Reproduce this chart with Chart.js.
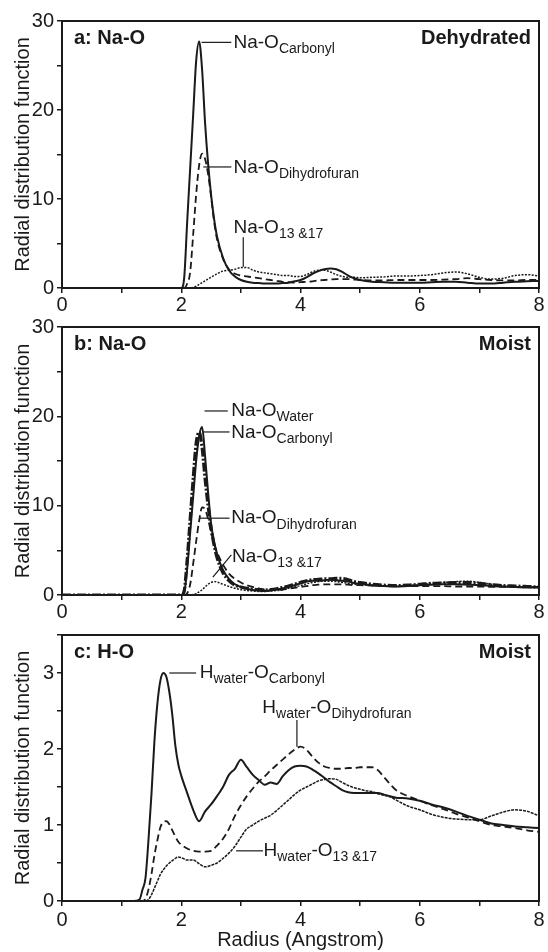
<!DOCTYPE html>
<html>
<head>
<meta charset="utf-8">
<script src="https://cdn.jsdelivr.net/npm/chart.js@4.4.1/dist/chart.umd.min.js"></script>
<style>
  html, body { margin: 0; padding: 0; background: #fff; }
  .panel { position: absolute; left: 0; width: 548px; }
  #pa { top: 0; height: 320px; }
  #pb { top: 305px; height: 320px; }
  #pc { top: 615px; height: 337px; }
</style>
</head>
<body>
<div class="panel" id="pa"><canvas id="chart-a"></canvas></div>
<div class="panel" id="pb"><canvas id="chart-b"></canvas></div>
<div class="panel" id="pc"><canvas id="chart-c"></canvas></div>
<script>
const FONT = "'Liberation Sans', Arial, sans-serif";
const INK = "#1a1a1a";

// radius grid shared by panels a and b (Angstrom)
const rNa = [0, 2.0, 2.05, 2.1, 2.15, 2.2, 2.25, 2.3, 2.35, 2.4, 2.45, 2.5, 2.55, 2.6,
  2.7, 2.8, 2.9, 3.0, 3.1, 3.2, 3.3, 3.4, 3.5, 3.6, 3.7, 3.8, 3.9, 4.0,
  4.1, 4.2, 4.3, 4.4, 4.5, 4.6, 4.7, 4.8, 4.9, 5.0,
  5.2, 5.4, 5.6, 5.8, 6.0, 6.2, 6.4, 6.6, 6.8, 7.0, 7.2, 7.4, 7.6, 7.8, 8.0];

// a: Na-O, dehydrated
const naDryCarbonyl = [0, 0, 1.2, 7.5, 13.5, 19.5, 25.5, 27.7, 24.5, 18.5, 14.0, 10.5, 7.8, 5.8,
  3.4, 2.0, 1.3, 0.9, 0.7, 0.6, 0.55, 0.5, 0.5, 0.5, 0.55, 0.6, 0.75, 0.9,
  1.2, 1.6, 1.9, 2.1, 2.2, 2.1, 1.8, 1.4, 1.1, 0.9,
  0.7, 0.65, 0.6, 0.6, 0.6, 0.65, 0.7, 0.7, 0.6, 0.5, 0.5, 0.6, 0.7, 0.75, 0.8];
const naDryDihydro = [0, 0, 0, 0.5, 1.8, 6.0, 10.5, 13.8, 15.1, 14.5, 12.8, 10.3, 7.5, 5.5,
  3.3, 2.1, 1.6, 1.4, 1.3, 1.2, 1.1, 1.0, 0.9, 0.8, 0.7, 0.65, 0.6, 0.65,
  0.7, 0.75, 0.85, 0.9, 0.95, 1.0, 1.0, 1.0, 0.95, 0.9,
  0.85, 0.85, 0.9, 0.9, 0.9, 0.9, 0.95, 1.0, 1.1, 1.0, 0.9, 0.85, 0.85, 0.9, 0.9];
const naDry1317 = [0, 0, 0, 0, 0, 0.05, 0.2, 0.4, 0.6, 0.8, 1.0, 1.2, 1.4, 1.6,
  1.9, 2.0, 2.1, 2.3, 2.3, 2.0, 1.8, 1.7, 1.6, 1.5, 1.4, 1.4, 1.3, 1.3,
  1.5, 1.8, 2.0, 2.0, 1.8, 1.5, 1.3, 1.2, 1.2, 1.15,
  1.2, 1.25, 1.35, 1.35, 1.4, 1.5, 1.7, 1.8, 1.6, 1.2, 1.0, 1.1, 1.4, 1.5, 1.35];

// b: Na-O, moist
const naWetWater = [0, 0, 0.5, 4.0, 8.5, 13.0, 17.0, 18.2, 16.5, 13.0, 10.0, 7.5, 5.6, 4.2,
  2.5, 1.6, 1.1, 0.9, 0.75, 0.65, 0.6, 0.55, 0.6, 0.7, 0.85, 1.0, 1.2, 1.4,
  1.6, 1.7, 1.75, 1.8, 1.8, 1.85, 1.85, 1.7, 1.5, 1.4,
  1.2, 1.1, 1.05, 1.1, 1.2, 1.3, 1.35, 1.4, 1.4, 1.3, 1.15, 1.05, 1.0, 0.95, 0.9];
const naWetCarbonyl = [0, 0, 0.3, 3.0, 7.0, 11.0, 15.0, 17.8, 18.8, 15.5, 11.5, 8.0, 6.0, 4.6,
  2.8, 1.8, 1.2, 0.9, 0.7, 0.55, 0.5, 0.45, 0.5, 0.6, 0.75, 0.9, 1.1, 1.3,
  1.5, 1.6, 1.6, 1.65, 1.7, 1.65, 1.6, 1.5, 1.35, 1.25,
  1.1, 1.0, 0.95, 1.0, 1.1, 1.15, 1.2, 1.2, 1.15, 1.1, 1.0, 0.95, 0.9, 0.85, 0.85];
const naWetDihydro = [0, 0, 0, 0.2, 1.2, 3.5, 6.0, 8.3, 9.8, 9.6, 8.5, 7.0, 5.8, 4.8,
  3.4, 2.4, 1.8, 1.4, 1.1, 0.9, 0.75, 0.6, 0.55, 0.55, 0.6, 0.7, 0.8, 0.9,
  1.0, 1.1, 1.15, 1.2, 1.2, 1.2, 1.2, 1.15, 1.1, 1.1,
  1.05, 1.0, 1.0, 1.0, 1.0, 1.0, 1.0, 0.95, 0.95, 0.95, 0.9, 0.9, 0.9, 0.9, 0.9];
const naWet1317 = [0, 0, 0, 0, 0, 0.05, 0.15, 0.35, 0.6, 0.9, 1.2, 1.4, 1.5, 1.45,
  1.2, 0.95, 0.75, 0.6, 0.5, 0.45, 0.4, 0.4, 0.45, 0.5, 0.6, 0.75, 0.9, 1.05,
  1.25, 1.4, 1.5, 1.55, 1.55, 1.5, 1.4, 1.3, 1.2, 1.15,
  1.05, 1.0, 1.0, 1.05, 1.15, 1.3, 1.4, 1.5, 1.55, 1.4, 1.2, 1.05, 0.95, 0.9, 0.9];

// c: H-O, moist
const rHO = [0, 1.2, 1.3, 1.35, 1.4, 1.45, 1.5, 1.55, 1.6, 1.65, 1.7, 1.75, 1.8, 1.85, 1.9, 1.95, 2.0,
  2.1, 2.2, 2.3, 2.4, 2.5, 2.6, 2.7, 2.8, 2.9, 3.0, 3.1, 3.2,
  3.3, 3.4, 3.5, 3.6, 3.7, 3.8, 3.9, 4.0, 4.1, 4.2, 4.3, 4.4,
  4.5, 4.6, 4.7, 4.8, 4.9, 5.0, 5.1, 5.2, 5.3, 5.4, 5.5, 5.6,
  5.8, 6.0, 6.2, 6.4, 6.6, 6.8, 7.0, 7.2, 7.4, 7.6, 7.8, 8.0];
const hoCarbonyl = [0, 0, 0.02, 0.15, 0.3, 0.8, 1.4, 2.1, 2.6, 2.9, 3.0, 2.95, 2.75, 2.45, 2.05, 1.8, 1.65,
  1.42, 1.2, 1.05, 1.18, 1.27, 1.38, 1.5, 1.66, 1.74, 1.86, 1.76, 1.66,
  1.59, 1.53, 1.56, 1.54, 1.64, 1.72, 1.77, 1.78, 1.77, 1.73, 1.68, 1.62,
  1.56, 1.51, 1.46, 1.43, 1.42, 1.42, 1.42, 1.42, 1.42, 1.40, 1.38, 1.36,
  1.35, 1.32, 1.27, 1.23, 1.18, 1.12, 1.07, 1.02, 1.0, 0.98, 0.97, 0.96];
const hoDihydro = [0, 0, 0, 0, 0.03, 0.15, 0.35, 0.6, 0.8, 0.97, 1.04, 1.05, 1.01, 0.93, 0.85, 0.78, 0.74,
  0.69, 0.66, 0.65, 0.65, 0.66, 0.73, 0.82, 0.95, 1.12, 1.26, 1.38, 1.48,
  1.57, 1.64, 1.72, 1.79, 1.86, 1.93, 1.99, 2.03, 1.99, 1.9, 1.82, 1.77,
  1.75, 1.74, 1.74, 1.75, 1.75, 1.76, 1.76, 1.76, 1.72, 1.63, 1.54, 1.46,
  1.38, 1.32, 1.26, 1.21, 1.15, 1.1, 1.05, 1.0, 0.98, 0.96, 0.93, 0.91];
const ho1317 = [0, 0, 0, 0, 0, 0.02, 0.08, 0.17, 0.26, 0.35, 0.41, 0.46, 0.5, 0.53, 0.56, 0.58, 0.57,
  0.54, 0.54, 0.49, 0.45, 0.47, 0.5, 0.56, 0.63, 0.72, 0.84, 0.95, 1.0,
  1.05, 1.09, 1.13, 1.19, 1.26, 1.33, 1.4, 1.46, 1.5, 1.54, 1.58, 1.6,
  1.61, 1.6, 1.56, 1.52, 1.49, 1.47, 1.45, 1.44, 1.41, 1.39, 1.37, 1.33,
  1.25, 1.2, 1.14, 1.1, 1.08, 1.07, 1.07, 1.12, 1.17, 1.2, 1.18, 1.12];

const xTicks = [0, 2, 4, 6, 8];

const STYLES = {
  solid: { borderWidth: 2, borderDash: [] },
  thick: { borderWidth: 3.2, borderDash: [9, 2, 2, 2] },
  dashed: { borderWidth: 1.8, borderDash: [7, 4] },
  dotted: { borderWidth: 1.5, borderDash: [2, 1.4] },
  thin: { borderWidth: 1.5, borderDash: [3, 1] },
};

function series(r, values, style) {
  return {
    data: r.map((x, i) => ({ x, y: values[i] })),
    borderColor: INK,
    pointRadius: 0,
    fill: false,
    cubicInterpolationMode: "monotone",
    ...STYLES[style],
  };
}

function drawParts(ctx, parts, x, y) {
  let cx = x;
  parts.forEach(([text, sub]) => {
    ctx.font = sub ? `14px ${FONT}` : `19px ${FONT}`;
    ctx.fillText(text, cx, sub ? y + 6.5 : y);
    cx += ctx.measureText(text).width;
  });
}

function makeNotes(tag, state, items) {
  return {
    id: "notes",
    afterDraw(chart) {
      const { ctx, chartArea: a, scales: { x, y } } = chart;
      ctx.save();
      ctx.strokeStyle = INK;
      ctx.lineWidth = 2;
      ctx.strokeRect(a.left, a.top, a.right - a.left, a.bottom - a.top);

      ctx.fillStyle = INK;
      ctx.textBaseline = "middle";
      ctx.font = `bold 20px ${FONT}`;
      ctx.textAlign = "left";
      ctx.fillText(tag, a.left + 12, a.top + 17);
      ctx.textAlign = "right";
      ctx.fillText(state, a.right - 8, a.top + 17);

      ctx.textAlign = "left";
      ctx.lineWidth = 1.2;
      items.forEach((item) => {
        const [p, q] = item.line;
        ctx.beginPath();
        ctx.moveTo(x.getPixelForValue(p[0]), y.getPixelForValue(p[1]));
        ctx.lineTo(x.getPixelForValue(q[0]), y.getPixelForValue(q[1]));
        ctx.stroke();
        drawParts(ctx, item.parts, x.getPixelForValue(item.at[0]), y.getPixelForValue(item.at[1]));
      });
      ctx.restore();
    },
  };
}

function makePanel(id, opts) {
  return new Chart(document.getElementById(id), {
    type: "line",
    data: { datasets: opts.datasets },
    options: {
      responsive: true,
      maintainAspectRatio: false,
      animation: false,
      events: [],
      layout: { padding: { top: opts.padTop, right: 9, bottom: 0, left: 0 } },
      plugins: { legend: { display: false }, tooltip: { enabled: false } },
      scales: {
        x: {
          type: "linear",
          min: 0,
          max: 8,
          afterFit: (scale) => { scale.height = opts.xHeight; },
          ticks: {
            stepSize: 1,
            autoSkip: false,
            maxRotation: 0,
            padding: opts.xPad,
            color: INK,
            font: { family: FONT, size: 20 },
            callback: (v) => (xTicks.includes(v) ? v : ""),
          },
          grid: { drawOnChartArea: false, tickLength: 5, color: INK, lineWidth: 1.5 },
          border: { color: INK, width: 2 },
          title: {
            display: !!opts.xTitle,
            text: opts.xTitle || "",
            color: INK,
            font: { family: FONT, size: 20 },
            padding: { top: 0, bottom: 0 },
          },
        },
        y: {
          min: 0,
          max: opts.yMax,
          afterFit: (scale) => { scale.width = 62; },
          ticks: {
            stepSize: opts.yStep,
            autoSkip: false,
            padding: 3,
            color: INK,
            font: { family: FONT, size: 20 },
            callback: (v) => (opts.yLabels.includes(v) ? v : ""),
          },
          grid: { drawOnChartArea: false, tickLength: 5, color: INK, lineWidth: 1.5 },
          border: { color: INK, width: 2 },
          title: {
            display: true,
            text: "Radial distribution function",
            color: INK,
            font: { family: FONT, size: 20 },
            padding: { top: 11, bottom: 0 },
          },
        },
      },
    },
    plugins: [makeNotes(opts.tag, opts.state, opts.notes)],
  });
}

const sub = (name) => [["Na-O", 0], [name, 1]];
const hsub = (name) => [["H", 0], ["water", 1], ["-O", 0], [name, 1]];

makePanel("chart-a", {
  padTop: 21, xHeight: 32, xPad: 0, yMax: 30, yStep: 5, yLabels: [0, 10, 20, 30],
  tag: "a: Na-O", state: "Dehydrated",
  datasets: [
    series(rNa, naDry1317, "dotted"),
    series(rNa, naDryDihydro, "dashed"),
    series(rNa, naDryCarbonyl, "solid"),
  ],
  notes: [
    { at: [2.876, 27.6], parts: sub("Carbonyl"), line: [[2.34, 27.6], [2.84, 27.6]] },
    { at: [2.876, 13.56], parts: sub("Dihydrofuran"), line: [[2.37, 13.6], [2.84, 13.6]] },
    { at: [2.876, 6.8], parts: sub("13 &17"), line: [[3.04, 5.7], [3.04, 2.4]] },
  ],
});

makePanel("chart-b", {
  padTop: 22, xHeight: 30, xPad: 0, yMax: 30, yStep: 5, yLabels: [0, 10, 20, 30],
  tag: "b: Na-O", state: "Moist",
  datasets: [
    series(rNa, naWet1317, "dotted"),
    series(rNa, naWetDihydro, "dashed"),
    series(rNa, naWetCarbonyl, "solid"),
    series(rNa, naWetWater, "thick"),
  ],
  notes: [
    { at: [2.838, 20.67], parts: sub("Water"), line: [[2.39, 20.6], [2.78, 20.6]] },
    { at: [2.838, 18.2], parts: sub("Carbonyl"), line: [[2.36, 18.25], [2.81, 18.25]] },
    { at: [2.838, 8.6], parts: sub("Dihydrofuran"), line: [[2.31, 8.6], [2.81, 8.6]] },
    { at: [2.85, 4.28], parts: sub("13 &17"), line: [[2.53, 2.0], [2.84, 4.5]] },
  ],
});

makePanel("chart-c", {
  padTop: 20, xHeight: 51, xPad: 2, yMax: 3.5, yStep: 0.5, yLabels: [0, 1, 2, 3],
  tag: "c: H-O", state: "Moist", xTitle: "Radius (Angstrom)",
  datasets: [
    series(rHO, ho1317, "thin"),
    series(rHO, hoDihydro, "dashed"),
    series(rHO, hoCarbonyl, "solid"),
  ],
  notes: [
    { at: [2.31, 3.0], parts: hsub("Carbonyl"), line: [[1.8, 3.0], [2.25, 3.0]] },
    { at: [3.36, 2.54], parts: hsub("Dihydrofuran"), line: [[3.94, 2.38], [3.94, 2.03]] },
    { at: [3.38, 0.66], parts: hsub("13 &17"), line: [[2.92, 0.66], [3.37, 0.66]] },
  ],
});
</script>
</body>
</html>
